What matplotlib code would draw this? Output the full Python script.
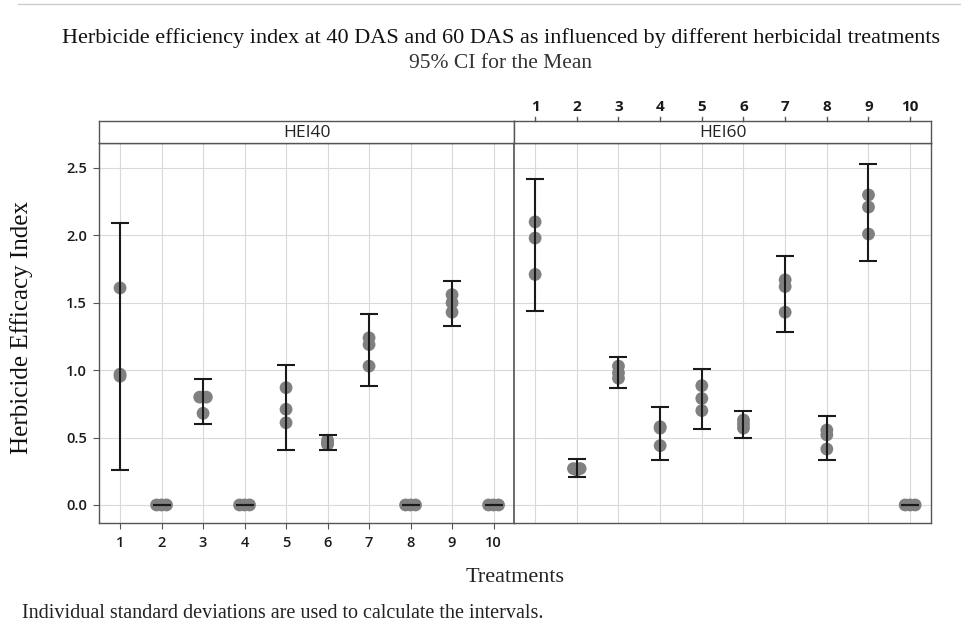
import matplotlib
matplotlib.use("Agg")
import matplotlib.pyplot as plt
from matplotlib.lines import Line2D
from matplotlib.font_manager import FontProperties
import numpy as np

# Treatments 1..10, three replicate values each, plus the 95% CI
treatments = list(range(1, 11))

hei40_values = [
    [1.61, 0.97, 0.955],
    [0.0, 0.0, 0.0],
    [0.80, 0.80, 0.68],
    [0.0, 0.0, 0.0],
    [0.87, 0.71, 0.61],
    [0.48, 0.46, 0.45],
    [1.24, 1.19, 1.03],
    [0.0, 0.0, 0.0],
    [1.56, 1.50, 1.43],
    [0.0, 0.0, 0.0],
]
hei40_lower = [0.26, 0.0, 0.60, 0.0, 0.41, 0.41, 0.88, 0.0, 1.33, 0.0]
hei40_upper = [2.09, 0.0, 0.935, 0.0, 1.04, 0.52, 1.42, 0.0, 1.66, 0.0]

hei60_values = [
    [2.10, 1.98, 1.71],
    [0.27, 0.27, 0.26],
    [1.03, 0.98, 0.94],
    [0.58, 0.57, 0.44],
    [0.885, 0.79, 0.70],
    [0.63, 0.60, 0.57],
    [1.67, 1.62, 1.43],
    [0.556, 0.52, 0.415],
    [2.30, 2.21, 2.01],
    [0.0, 0.0, 0.0],
]
hei60_lower = [1.44, 0.205, 0.865, 0.334, 0.56, 0.50, 1.28, 0.33, 1.81, 0.0]
hei60_upper = [2.42, 0.34, 1.10, 0.73, 1.01, 0.70, 1.85, 0.66, 2.53, 0.0]

panels = ["HEI40", "HEI60"]
yticks = [0.0, 0.5, 1.0, 1.5, 2.0, 2.5]

W, H = 962, 629
fig = plt.figure(figsize=(W / 100, H / 100), dpi=100)


def px_box(x0, y0, x1, y1):
    return [x0 / W, 1 - y1 / H, (x1 - x0) / W, (y1 - y0) / H]


tick_font = FontProperties(family="Open Sans", weight="semibold", size=10.5)
top_font = FontProperties(family="Open Sans", weight="bold", size=11)
frame_col = "#555555"
grid_col = "#d9d9d9"


def jitter(vals):
    # Minitab-style: identical points are spread sideways
    vals = np.asarray(vals)
    offs = np.zeros(len(vals))
    used = np.zeros(len(vals), bool)
    for i in range(len(vals)):
        if used[i]:
            continue
        grp = [j for j in range(len(vals)) if not used[j] and abs(vals[j] - vals[i]) < 0.005]
        for j in grp:
            used[j] = True
        n = len(grp)
        if n > 2:
            offs[grp] = np.linspace(-0.12, 0.12, n)
        elif n == 2:
            offs[grp] = [-0.08, 0.08]
    return offs


def draw_panel(ax, vals, lo, hi):
    ax.set_xlim(0.5, 10.5)
    ax.set_ylim(-0.136, 2.683)
    ax.set_xticks(treatments)
    ax.set_yticks(yticks)
    ax.grid(True, color=grid_col, linewidth=0.8)
    ax.set_axisbelow(True)
    for t, v, l, h in zip(treatments, vals, lo, hi):
        xs = t + jitter(v)
        ax.scatter(xs, v, s=85, color="#808080", edgecolors="none", zorder=2)
        mean = (l + h) / 2
        ax.errorbar([t], [mean], yerr=[[mean - l], [h - mean]], fmt="none",
                    ecolor="#1a1a1a", elinewidth=1.5, capsize=6.5, capthick=1.5, zorder=3)
    for s in ax.spines.values():
        s.set_color(frame_col)
        s.set_linewidth(1.0)
    ax.tick_params(length=4, color=frame_col, labelcolor="#1a1a1a")
    for lab in ax.get_xticklabels() + ax.get_yticklabels():
        lab.set_fontproperties(tick_font)


left, mid, right = 99.3, 514.3, 931.0
top, strip_bot, bottom = 121.0, 143.3, 523.3

ax1 = fig.add_axes(px_box(left, strip_bot, mid, bottom))
ax2 = fig.add_axes(px_box(mid, strip_bot, right, bottom))
draw_panel(ax1, hei40_values, hei40_lower, hei40_upper)
draw_panel(ax2, hei60_values, hei60_lower, hei60_upper)

ax1.yaxis.set_major_formatter(matplotlib.ticker.FormatStrFormatter("%.1f"))
ax2.tick_params(left=False, labelleft=False, bottom=False, labelbottom=False,
                top=True, labeltop=True)
ax1.tick_params(pad=5)
ax2.tick_params(pad=17)  # labels sit above the strip
for lab in ax2.get_xticklabels():
    lab.set_fontproperties(top_font)
ax2.spines["left"].set_linewidth(1.2)

# panel strips
for (x0, x1), name in zip([(left, mid), (mid, right)], panels):
    sax = fig.add_axes(px_box(x0, top, x1, strip_bot))
    sax.set_xticks([])
    sax.set_yticks([])
    for s in sax.spines.values():
        s.set_color(frame_col)
        s.set_linewidth(1.0)
    sax.text(0.5, 0.45, name, ha="center", va="center", fontsize=12.5,
             family="Open Sans", color="#222222", transform=sax.transAxes)

# top ticks of HEI60 start at the strip, not at the data area
for tk in ax2.xaxis.get_major_ticks():
    tk.tick2line.set_visible(False)
for t in treatments:
    x = ax2.transData.transform((t, 0))[0] / fig.bbox.width
    fig.add_artist(Line2D([x, x], [1 - top / H, 1 - (top - 4) / H], color=frame_col, lw=1.0))

serif = "Liberation Serif"
fig.text(501 / W, 1 - 38 / H, "Herbicide efficiency index at 40 DAS and 60 DAS as influenced by different herbicidal treatments",
         ha="center", va="center", family=serif, fontsize=16, color="#111111")
fig.text(501 / W, 1 - 63 / H, "95% CI for the Mean", ha="center", va="center",
         family=serif, fontsize=15.5, color="#333333")
fig.text(22 / W, 1 - 328 / H, "Herbicide Efficacy Index", rotation=90, ha="center", va="center",
         family=serif, fontsize=18, color="#111111")
fig.text(515 / W, 1 - 577 / H, "Treatments", ha="center", va="center",
         family=serif, fontsize=16, color="#222222")
fig.text(22 / W, 1 - 613 / H, "Individual standard deviations are used to calculate the intervals.",
         ha="left", va="center", family=serif, fontsize=14.5, color="#222222")

# faint page edge line along the top
fig.add_artist(Line2D([18 / W, 1], [1 - 4 / H, 1 - 4 / H], color="#cccccc", lw=1.0))

fig.savefig("out.png", dpi=100, facecolor="white")
